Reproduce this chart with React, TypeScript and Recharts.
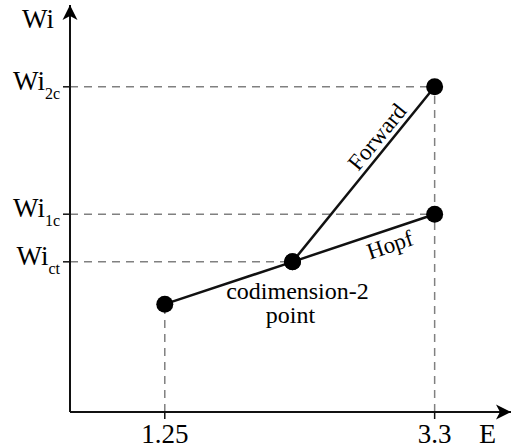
import { ComposedChart, ReferenceDot, ReferenceLine, Scatter, XAxis, YAxis } from "recharts";

const FONT = "'Liberation Serif', 'Times New Roman', serif";
const serif = { fontFamily: FONT };
const INK = "#000";

// axis extents (data units)
const eRange = [0.53, 3.88];
const wiRange = [0, 10];

// tick positions on E
const eTicks = [1.25, 3.3];

// critical Wi levels, with their subscripts
const wiLevels = [3.69, 4.86, 7.99];
const wiSubs = ["ct", "1c", "2c"];

// the two branches, meeting at the codimension-2 point
const hopf = [
  { E: 1.25, Wi: 2.65 },
  { E: 2.22, Wi: 3.69 },
  { E: 3.3, Wi: 4.86 },
];
const forward = [
  { E: 2.22, Wi: 3.69 },
  { E: 3.3, Wi: 7.99 },
];

const codim = hopf[1];

const along = (a: { E: number; Wi: number }, b: { E: number; Wi: number }, t: number) => ({
  E: a.E + (b.E - a.E) * t,
  Wi: a.Wi + (b.Wi - a.Wi) * t,
});
const forwardLabel = along(forward[0], forward[1], 0.666);
const hopfLabel = along(hopf[1], hopf[2], 0.652);

const dash = { stroke: "#808080", strokeWidth: 1.5, strokeDasharray: "8 6" };

const Dot = (p: any) => <circle cx={p.cx} cy={p.cy} r={8.5} fill={INK} />;

const XTick = (p: any) => (
  <text x={p.x} y={p.y} dy={22} textAnchor="middle" style={serif} fontSize={27} fill={INK}>
    {p.payload.value}
  </text>
);

const YTick = (p: any) => {
  const i = wiLevels.indexOf(p.payload.value);
  return (
    <text x={p.x - 1} y={p.y + 3} textAnchor="end" style={serif} fontSize={27} fill={INK}>
      Wi
      <tspan fontSize={16} dy={9}>
        {wiSubs[i]}
      </tspan>
    </text>
  );
};

export default function App() {
  // horizontal guides run from the Wi axis, vertical ones from the E axis
  const hGuides = [codim, hopf[2], forward[1]];
  const vGuides = [hopf[0], forward[1]];
  return (
    <div style={{ position: "absolute", left: 0, top: 0, background: "#fff", fontFamily: FONT }}>
      <ComposedChart width={513} height={448} margin={{ top: 5, right: 2, left: 0, bottom: 0 }}>
        <XAxis
          type="number"
          dataKey="E"
          domain={eRange}
          ticks={eTicks}
          height={36}
          tickSize={7}
          tick={<XTick />}
          axisLine={{ stroke: "#111", strokeWidth: 2 }}
          tickLine={{ stroke: "#111", strokeWidth: 1.5 }}
          allowDataOverflow
        />
        <YAxis
          type="number"
          dataKey="Wi"
          domain={wiRange}
          ticks={wiLevels}
          width={70}
          tickSize={7}
          tick={<YTick />}
          axisLine={{ stroke: "#111", strokeWidth: 2 }}
          tickLine={{ stroke: "#111", strokeWidth: 1.5 }}
          allowDataOverflow
        />
        {hGuides.map((g, i) => (
          <ReferenceLine
            key={"h" + i}
            segment={[
              { x: eRange[0], y: g.Wi },
              { x: g.E, y: g.Wi },
            ]}
            {...dash}
            ifOverflow="visible"
          />
        ))}
        {vGuides.map((g, i) => (
          <ReferenceLine
            key={"v" + i}
            segment={[
              { x: g.E, y: wiRange[0] },
              { x: g.E, y: g.Wi },
            ]}
            {...dash}
            ifOverflow="visible"
          />
        ))}
        <Scatter
          data={hopf}
          line={{ stroke: "#111", strokeWidth: 2.5 }}
          shape={<Dot />}
          isAnimationActive={false}
        />
        <Scatter
          data={forward}
          line={{ stroke: "#111", strokeWidth: 2.5 }}
          shape={<Dot />}
          isAnimationActive={false}
        />
        {/* arrowheads and axis names */}
        <ReferenceDot
          x={eRange[1]}
          y={wiRange[0]}
          ifOverflow="visible"
          shape={(p: any) => (
            <g>
              <path d={`M${p.cx},${p.cy} L${p.cx - 15},${p.cy - 7.5} L${p.cx - 11},${p.cy} L${p.cx - 15},${p.cy + 7.5} Z`} fill={INK} />
              <text x={p.cx - 32} y={p.cy + 31} style={serif} fontSize={28} fill={INK}>
                E
              </text>
            </g>
          )}
        />
        <ReferenceDot
          x={eRange[0]}
          y={wiRange[1]}
          ifOverflow="visible"
          shape={(p: any) => (
            <g>
              <path d={`M${p.cx},${p.cy} L${p.cx - 7.5},${p.cy + 15} L${p.cx},${p.cy + 11} L${p.cx + 7.5},${p.cy + 15} Z`} fill={INK} />
              <text x={p.cx - 48} y={p.cy + 23} style={serif} fontSize={27} fill={INK}>
                Wi
              </text>
            </g>
          )}
        />
        {/* branch annotations */}
        <ReferenceDot
          x={codim.E}
          y={codim.Wi}
          ifOverflow="visible"
          shape={(p: any) => (
            <text textAnchor="middle" style={serif} fontSize={24} fill={INK}>
              <tspan x={p.cx + 5} y={p.cy + 37}>
                codimension-2
              </tspan>
              <tspan x={p.cx - 2} y={p.cy + 61}>
                point
              </tspan>
            </text>
          )}
        />
        <ReferenceDot
          x={forwardLabel.E}
          y={forwardLabel.Wi}
          ifOverflow="visible"
          shape={(p: any) => (
            <text
              transform={`translate(${p.cx},${p.cy}) rotate(-50.7)`}
              y={-13}
              textAnchor="middle"
              dominantBaseline="central"
              style={serif}
              fontSize={23}
              fill={INK}
            >
              Forward
            </text>
          )}
        />
        <ReferenceDot
          x={hopfLabel.E}
          y={hopfLabel.Wi}
          ifOverflow="visible"
          shape={(p: any) => (
            <text
              transform={`translate(${p.cx},${p.cy}) rotate(-18.6)`}
              y={15}
              textAnchor="middle"
              dominantBaseline="central"
              style={serif}
              fontSize={23}
              fill={INK}
            >
              Hopf
            </text>
          )}
        />
      </ComposedChart>
    </div>
  );
}
